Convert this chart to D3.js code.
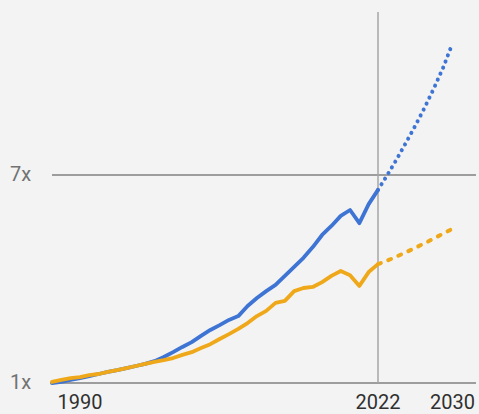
<!DOCTYPE html>
<html lang="en">
	<head>
		<meta charset="UTF-8">
		<title>Growth chart</title>
		<script src="https://d3js.org/d3.v7.min.js"></script>
		<style>
			body{
				margin: 0;
				background: #f3f3f3;
			}
			svg{
				display: block;
				font-family: Roboto, "Open Sans", sans-serif;
			}
		</style>
	</head>
	<body>
		<svg width="479" height="414"></svg>
		<script>

			// historical series, one value per year
			var years = [1987,1988,1989,1990,1991,1992,1993,1994,1995,1996,1997,1998,1999,2000,2001,2002,2003,2004,
				2005,2006,2007,2008,2009,2010,2011,2012,2013,2014,2015,2016,2017,2018,2019,2020,2021,2022];
			var blueValues = [1.00,1.03,1.09,1.14,1.20,1.26,1.32,1.37,1.43,1.49,1.55,1.63,1.75,1.89,2.04,2.18,2.36,2.53,
				2.67,2.82,2.93,3.22,3.45,3.65,3.83,4.09,4.35,4.61,4.92,5.27,5.53,5.82,5.99,5.61,6.16,6.57];
			var orangeValues = [1.03,1.09,1.14,1.17,1.23,1.26,1.32,1.37,1.43,1.49,1.55,1.61,1.66,1.72,1.81,1.89,2.01,2.12,
				2.27,2.41,2.56,2.73,2.93,3.08,3.31,3.37,3.65,3.74,3.77,3.91,4.09,4.23,4.11,3.80,4.20,4.43];

			// projections
			var projYears = [2022,2023,2024,2025,2026,2027,2028,2029,2030];
			var blueProj = [6.57,7.00,7.45,7.93,8.42,8.94,9.50,10.10,10.80];
			var orangeProj = [4.43,4.53,4.65,4.77,4.90,5.03,5.17,5.31,5.45];

			var yTicks = [1, 7];
			var xTickYears = [1990, 2022, 2030];
			var markerYear = 2022;

			var blue = "#3e74d3";
			var orange = "#efa81a";

			var svg = d3.select("svg");

			var x = d3.scaleLinear().domain([1987, 2022]).range([52, 378]);
			var y = d3.scaleLinear().domain([1, 7]).range([383, 175]);

			var plotLeft = 52, plotRight = 476, plotTop = 12;

			// horizontal grid lines
			svg.selectAll(".grid")
					.data(yTicks)
					.enter()
					.append("line")
						.attr("class", "grid")
						.attr("x1", plotLeft)
						.attr("x2", plotRight)
						.attr("y1", function (d) { return y(d); })
						.attr("y2", function (d) { return y(d); })
						.attr("stroke", "#9d9d9d")
						.attr("stroke-width", 2);

			svg.selectAll(".ylab")
					.data(yTicks)
					.enter()
					.append("text")
						.attr("class", "ylab")
						.attr("x", 10)
						.attr("y", function (d) { return y(d); })
						.attr("dy", "0.32em")
						.attr("font-size", 20)
						.attr("fill", "#727272")
						.text(function (d) { return d + "x"; });

			// 2022 marker
			svg.append("line")
					.attr("x1", x(markerYear))
					.attr("x2", x(markerYear))
					.attr("y1", plotTop)
					.attr("y2", y(1))
					.attr("stroke", "#a6a6a6")
					.attr("stroke-width", 1.5);

			svg.selectAll(".xlab")
					.data(xTickYears)
					.enter()
					.append("text")
						.attr("class", "xlab")
						.attr("x", function (d) { return x(d); })
						.attr("y", 409)
						.attr("text-anchor", "middle")
						.attr("font-size", 20)
						.attr("fill", "#303030")
						.text(function (d) { return d; });

			var line = d3.line()
					.x(function (d) { return x(d[0]); })
					.y(function (d) { return y(d[1]); });

			function drawSeries(vals, pYears, pVals, colour, dash) {
				svg.append("path")
						.datum(years.map(function (yr, i) { return [yr, vals[i]]; }))
						.attr("d", line)
						.attr("fill", "none")
						.attr("stroke", colour)
						.attr("stroke-width", 3.8)
						.attr("stroke-linejoin", "round")
						.attr("stroke-linecap", "round");
				svg.append("path")
						.datum(pYears.map(function (yr, i) { return [yr, pVals[i]]; }))
						.attr("d", line)
						.attr("fill", "none")
						.attr("stroke", colour)
						.attr("stroke-width", 4)
						.attr("stroke-linecap", "round")
						.attr("stroke-dasharray", dash);
			}

			drawSeries(blueValues, projYears, blueProj, blue, "0.1 6.5");
			drawSeries(orangeValues, projYears, orangeProj, orange, "3 8");

		</script>
	</body>
</html>
